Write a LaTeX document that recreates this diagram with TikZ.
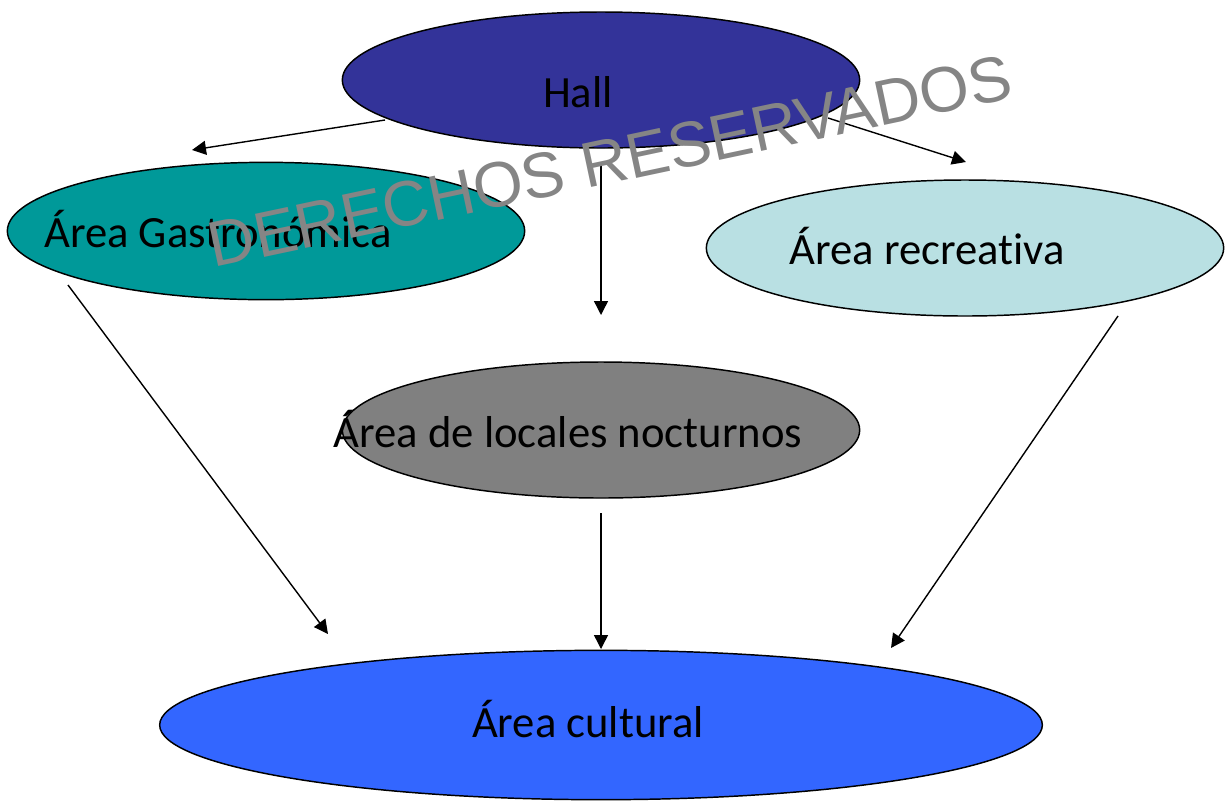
\documentclass[tikz,border=0pt]{standalone}
\usepackage{fontspec}
\setmainfont{Carlito}[RawFeature=-liga]
\newfontfamily\wmfont{Liberation Sans}
\usetikzlibrary{shapes.geometric,arrows.meta}
\definecolor{hallc}{HTML}{333399}
\definecolor{gastroc}{HTML}{009999}
\definecolor{recc}{HTML}{B9E0E3}
\definecolor{nocc}{HTML}{808080}
\definecolor{culc}{HTML}{3366FF}
\definecolor{wmc}{HTML}{858585}
\begin{document}
\begin{tikzpicture}[x=0.75pt,y=-0.75pt,
  area/.style={ellipse,draw=black,line width=1.1pt,inner sep=0pt},
  lbl/.style={font=\fontsize{33.5}{40}\selectfont,text=black,inner sep=0pt},
  arr/.style={-{Triangle[length=10.5pt,width=10.5pt]},line width=1.05pt}
]
\useasboundingbox (0,0) rectangle (1226,801);
% ellipses
\node[area,fill=hallc,minimum width=388pt,minimum height=102pt] (hall) at (601,80) {};
\node[area,fill=gastroc,minimum width=388pt,minimum height=103pt] (gastro) at (266,231) {};
\node[area,fill=recc,minimum width=388pt,minimum height=102pt] (rec) at (965,248) {};
\node[area,fill=nocc,minimum width=388pt,minimum height=102pt] (noc) at (601,430) {};
\node[area,fill=culc,minimum width=662pt,minimum height=112pt] (cul) at (601,725) {};
% labels
\node[lbl] (thall) at (578,92) {Hall};
\node[lbl] (tgastro) at (218,229) {Área Gastronómica};
\node[lbl] (trec) at (927,246) {Área recreativa};
\node[lbl] (tnoc) at (568,429) {Área de locales nocturnos};
\node[lbl] (tcul) at (588,719) {Área cultural};
% connector end points
\coordinate (a1s) at (385,120); \coordinate (a1e) at (192,150);
\coordinate (a2s) at (828,118); \coordinate (a2e) at (966,162);
\coordinate (a3s) at (601,165); \coordinate (a3e) at (601,315);
\coordinate (a4s) at (68,285);  \coordinate (a4e) at (328,634);
\coordinate (a5s) at (1118,316); \coordinate (a5e) at (891,648);
\coordinate (a6s) at (601,513); \coordinate (a6e) at (601,649);
\draw[arr] (a1s) -- (a1e);
\draw[arr] (a2s) -- (a2e);
\draw[arr] (a3s) -- (a3e);
\draw[arr] (a4s) -- (a4e);
\draw[arr] (a5s) -- (a5e);
\draw[arr] (a6s) -- (a6e);
% watermark
\node[text=wmc,font=\wmfont\fontsize{48}{56}\selectfont,rotate=12,inner sep=0pt] (wm) at (610,161) {DERECHOS RESERVADOS};
\end{tikzpicture}
\end{document}
